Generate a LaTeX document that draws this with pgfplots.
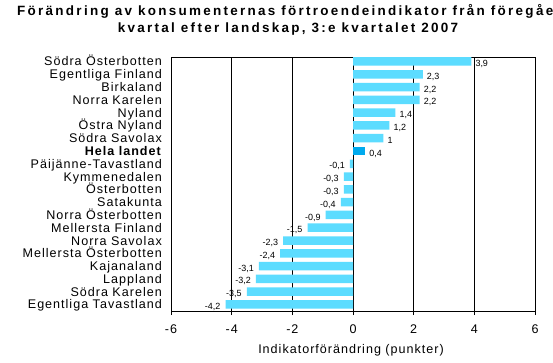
\documentclass[border=0pt]{standalone}
\usepackage{pgfplots}
\pgfplotsset{compat=1.18}
\usepackage{fontspec}
\setmainfont{Liberation Sans}
\newfontfamily\labfont{Liberation Sans}[LetterSpace=8]
\newfontfamily\titfont{Liberation Sans}[LetterSpace=17]
\newfontfamily\valfont{Liberation Sans}
\definecolor{barc}{HTML}{5CDCFF}
\definecolor{helac}{HTML}{00AAEE}
\begin{document}
\begin{tikzpicture}[x=1bp,y=1bp]
\useasboundingbox (0,0) rectangle (553,362);
\fill[white] (0,0) rectangle (553,362);
\node[anchor=base west, inner sep=0pt, font=\titfont\bfseries\fontsize{13.5}{15}\selectfont] at (17,347) {Förändring av konsumenternas förtroendeindikator från föregående};
\node[anchor=base, inner sep=0pt, font=\titfont\bfseries\fontsize{13.5}{15}\selectfont] at (288,329.5) {kvartal efter landskap, 3:e kvartalet 2007};
\begin{axis}[
  at={(171bp,51bp)}, anchor=south west,
  scale only axis, width=364bp, height=254bp,
  xmin=-6, xmax=6, ymin=-0.51, ymax=19.35,
  xbar, bar width=8.5bp,
  xtick={-6,-4,-2,0,2,4,6},
  xticklabels={-6,-4,-2,0,2,4,6},
  xtick pos=left,
  xmajorgrids, grid style={black, line width=0.8bp},
  axis line style={black, line width=0.8bp},
  tick align=outside, major tick length=4bp,
  xtick style={black, line width=0.8bp},
  ytick={0,...,19},
  ytick style={draw=none},
  yticklabels={Egentliga Tavastland, Södra Karelen, Lappland, Kajanaland, Mellersta Österbotten\hspace{2.5bp}, Norra Savolax, Mellersta Finland, Norra Österbotten\hspace{2.5bp}, Satakunta, Österbotten, Kymmenedalen, Päijänne-Tavastland, \textbf{Hela landet}\hspace{2.5bp}, Södra Savolax, Östra Nyland\hspace{2.5bp}, Nyland, Norra Karelen, Birkaland, Egentliga Finland, Södra Österbotten\hspace{2.5bp}},
  yticklabel style={font=\labfont\fontsize{12.6}{13}\selectfont, inner sep=0pt, anchor=base east, xshift=-5bp, yshift=-4.5bp},
  xticklabel style={font=\labfont\fontsize{12.6}{13}\selectfont, inner sep=0pt, yshift=-10bp},
  xlabel={Indikatorförändring (punkter)},
  xlabel style={font=\labfont\fontsize{12.6}{13}\selectfont, inner sep=0pt, at={(axis description cs:0.5,0)}, anchor=base, yshift=-42bp, xshift=-2bp},
  clip=false,
]
\addplot[fill=barc, draw=none, bar shift=0pt, point meta=explicit symbolic, nodes near coords,
  nodes near coords style={anchor=west, inner sep=0pt, xshift=4bp, yshift=-2.5bp, font=\valfont\fontsize{9}{10}\selectfont}]
  coordinates {(3.9,19) [3,9] (2.3,18) [2,3] (2.2,17) [2,2] (2.2,16) [2,2] (1.4,15) [1,4] (1.2,14) [1,2] (1,13) [1]};
\addplot[fill=helac, draw=none, bar shift=0pt, point meta=explicit symbolic, nodes near coords,
  nodes near coords style={anchor=west, inner sep=0pt, xshift=4bp, yshift=-2.5bp, font=\valfont\fontsize{9}{10}\selectfont}]
  coordinates {(0.4,12) [0,4]};
\addplot[fill=barc, draw=none, bar shift=0pt, point meta=explicit symbolic, nodes near coords,
  nodes near coords style={anchor=east, inner sep=0pt, xshift=-5bp, yshift=-2.5bp, font=\valfont\fontsize{9}{10}\selectfont}]
  coordinates {(-0.1,11) [-0,1] (-0.3,10) [-0,3] (-0.3,9) [-0,3] (-0.4,8) [-0,4] (-0.9,7) [-0,9] (-1.5,6) [-1,5] (-2.3,5) [-2,3] (-2.4,4) [-2,4] (-3.1,3) [-3,1] (-3.2,2) [-3,2] (-3.5,1) [-3,5] (-4.2,0) [-4,2]};
\end{axis}
\end{tikzpicture}
\end{document}
